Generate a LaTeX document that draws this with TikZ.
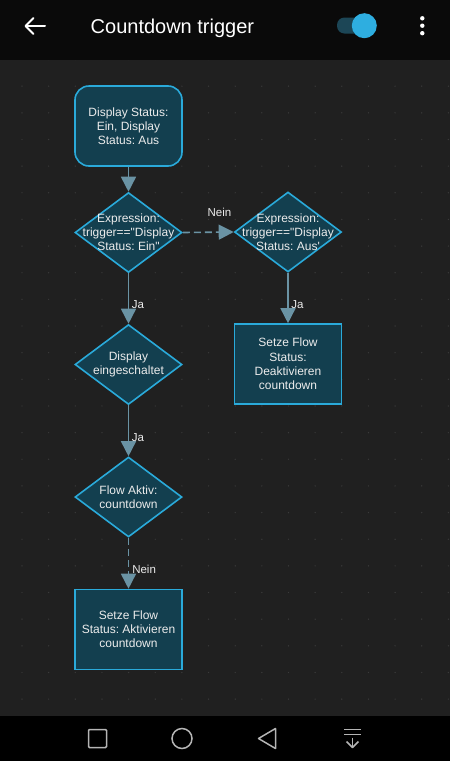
\documentclass[tikz,border=0pt]{standalone}
\usepackage{fontspec}
\setmainfont{Liberation Sans}[Ligatures=TeXOff]
\frenchspacing
\usetikzlibrary{arrows.meta,shapes.geometric}
\definecolor{bgc}{HTML}{202020}
\definecolor{topc}{HTML}{0A0A0A}
\definecolor{navc}{HTML}{000000}
\definecolor{gridc}{HTML}{3A3A3A}
\definecolor{nodefill}{HTML}{133F4F}
\definecolor{nodeborder}{HTML}{2AAADA}
\definecolor{edgec}{HTML}{6A93A4}
\definecolor{txtc}{HTML}{ECECEC}
\definecolor{knobc}{HTML}{2EAEE0}
\definecolor{trackc}{HTML}{1C4656}
\definecolor{iconc}{HTML}{B5B5B5}
\newcommand\ndfont{\fontsize{12}{14.2}\selectfont}
\newcommand\lbfont{\fontsize{11.5}{13}\selectfont}
\tikzset{
  box/.style={draw=nodeborder, fill=nodefill, line width=1.6pt, minimum width=107pt,
    minimum height=80pt, align=center, text=txtc, font=\ndfont, inner sep=2pt},
  rbox/.style={box, rounded corners=14pt},
  dia/.style={draw=nodeborder, fill=nodefill, line width=1.6pt, diamond,
    minimum width=107pt, minimum height=80pt, inner sep=0pt},
  dtxt/.style={align=center, text=txtc, font=\ndfont, inner sep=0pt},
  conn/.style={draw=edgec, line width=1.6pt, -{Triangle[width=15pt,length=15pt]}},
  dconn/.style={conn, dash pattern=on 7pt off 4pt},
  lbl/.style={text=txtc, font=\lbfont, inner sep=0pt},
  navicon/.style={draw=iconc, line width=1.5pt}
}
\begin{document}
\begin{tikzpicture}[x=1pt,y=-1pt]
\useasboundingbox (0,0) rectangle (450,761);
% backgrounds
\fill[bgc] (0,60) rectangle (450,716);
% grid dots
\foreach \i in {0,...,16} {
  \foreach \j in {0,...,24} {
    \fill[gridc] (22+26.65*\i, 59.5+26.65*\j) circle (0.7pt);
  }
}
\fill[topc] (0,0) rectangle (450,59.5);
\fill[navc] (0,716) rectangle (450,761);

% top bar
\draw[white, line width=2pt, line cap=round, line join=round] (45,26) -- (26,26);
\draw[white, line width=2pt, line cap=round, line join=round] (33.5,18) -- (25.5,26) -- (33.5,34);
\node[anchor=base west, text=white, font=\fontsize{20}{24}\selectfont, inner sep=0pt] (title) at (90.5,33) {Countdown trigger};
\fill[trackc, rounded corners=7.5pt] (337,17.5) rectangle (368,33.5);
\fill[knobc] (364.3,25.7) circle (12.5pt);
\foreach \yy in {18.3,25.7,33.2} \fill[white] (422.3,\yy) circle (2.2pt);

% nodes
\node[rbox] (start) at (128.5,126) {Display Status:\\Ein, Display\\Status: Aus};
\node[dia, label={[dtxt]center:{Expression:\\trigger=="Display\\Status: Ein"}}] (d1) at (128.5,232.5) {};
\node[dia, label={[dtxt]center:{Expression:\\trigger=="Display\\Status: Aus'}}] (d2) at (288,232) {};
\node[box] (r2) at (288,364) {Setze Flow\\Status:\\Deaktivieren\\countdown};
\node[dia, label={[dtxt]center:{Display\\eingeschaltet}}] (d3) at (128.5,364.5) {};
\node[dia, label={[dtxt]center:{Flow Aktiv:\\countdown}}] (d4) at (128.5,497) {};
\node[box] (r3) at (128.5,629.5) {Setze Flow\\Status: Aktivieren\\countdown};

% connectors
\draw[conn] (start) -- (d1.north);
\draw[dconn] (d1.east) -- node[lbl, pos=0.72, yshift=20pt] {Nein} (d2.west);
\draw[conn] (d2.south) -- node[lbl, pos=0.64, anchor=west, xshift=2.5pt] {Ja} (r2.north);
\draw[conn] (d1.south) -- node[lbl, pos=0.62, anchor=west, xshift=2.5pt] {Ja} (d3.north);
\draw[conn] (d3.south) -- node[lbl, pos=0.63, anchor=west, xshift=2.5pt] {Ja} (d4.north);
\draw[dconn] (d4.south) -- node[lbl, pos=0.63, anchor=west, xshift=3pt] {Nein} (r3.north);

% bottom navigation
\draw[navicon, rounded corners=1pt] (88.5,729.5) rectangle (106.5,747.5);
\draw[navicon] (182,738.5) circle (10pt);
\draw[navicon, line join=round] (275.5,728.5) -- (258.5,738.5) -- (275.5,748.5) -- cycle;
\draw[navicon] (344,729.7) -- (361,729.7);
\draw[navicon] (344,734.5) -- (361,734.5);
\draw[navicon] (352.5,737.5) -- (352.5,747.5);
\draw[navicon, line join=round] (346.5,741.5) -- (352.5,747.5) -- (358.5,741.5);
\end{tikzpicture}
\end{document}
